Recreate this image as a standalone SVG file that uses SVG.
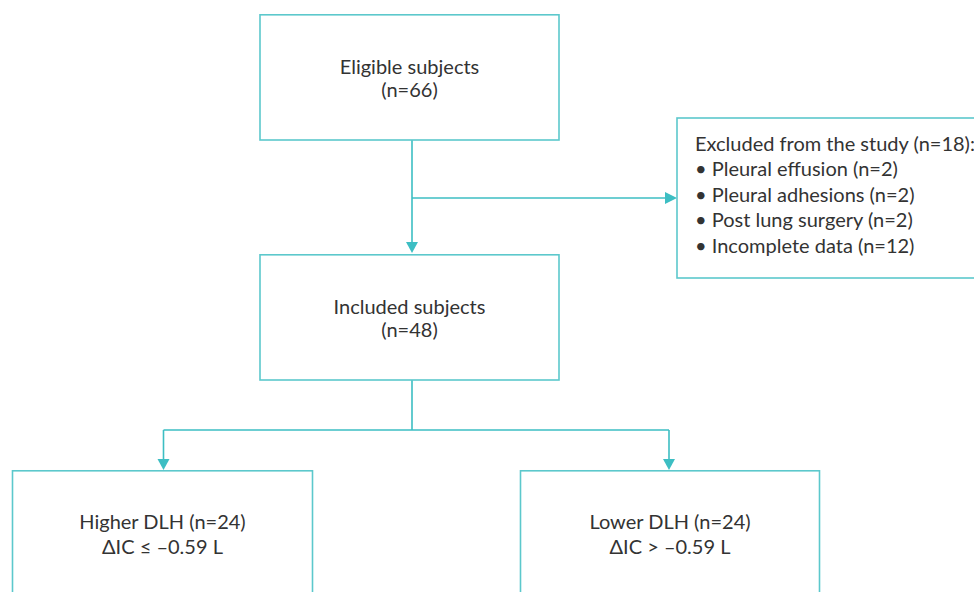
<svg xmlns="http://www.w3.org/2000/svg" width="974" height="592" viewBox="0 0 974 592">
<defs>
<style>
.box{fill:#fff;stroke:#5cc8cc;stroke-width:1.6}
.ln{fill:none;stroke:#3dbec3;stroke-width:1.6}
.ah{fill:#3dbec3}
text{font-family:"Lato","Liberation Sans",sans-serif;font-size:20px;fill:#333}
.c{text-anchor:middle}
</style>
</defs>
<rect width="974" height="592" fill="#fff"/>
<g id="connectors">
<path class="ln" d="M412 140V242"/>
<path class="ln" d="M412 198H665"/>
<path class="ln" d="M412 380V430M163.5 430H669M163.5 430V459M669 430V459"/>
<polygon class="ah" points="406,242 418,242 412,253"/>
<polygon class="ah" points="665,192 665,204 677,198"/>
<polygon class="ah" points="157.5,459 169.5,459 163.5,470"/>
<polygon class="ah" points="663,459 675,459 669,470"/>
</g>
<g id="eligible">
<rect class="box" x="260" y="14.8" width="299" height="125.2"/>
<text class="c" x="409.5" y="73.5">Eligible subjects</text>
<text class="c" x="409.5" y="97">(n=66)</text>
</g>
<g id="included">
<rect class="box" x="260" y="254.8" width="299" height="125.2"/>
<text class="c" x="409.5" y="313.5">Included subjects</text>
<text class="c" x="409.5" y="337">(n=48)</text>
</g>
<g id="excluded">
<rect class="box" x="677" y="118" width="310" height="160"/>
<text x="695" y="150.5">Excluded from the study (n=18):</text>
<text x="695" y="176">• Pleural effusion (n=2)</text>
<text x="695" y="201.5">• Pleural adhesions (n=2)</text>
<text x="695" y="227">• Post lung surgery (n=2)</text>
<text x="695" y="252.5">• Incomplete data (n=12)</text>
</g>
<g id="higher">
<rect class="box" x="12.5" y="470.8" width="300" height="140"/>
<text class="c" x="162.5" y="528.5">Higher DLH (n=24)</text>
<text class="c" x="162.5" y="554">ΔIC ≤ –0.59 L</text>
</g>
<g id="lower">
<rect class="box" x="520.5" y="470.8" width="299" height="140"/>
<text class="c" x="670" y="528.5">Lower DLH (n=24)</text>
<text class="c" x="670" y="554">ΔIC &gt; –0.59 L</text>
</g>
</svg>
